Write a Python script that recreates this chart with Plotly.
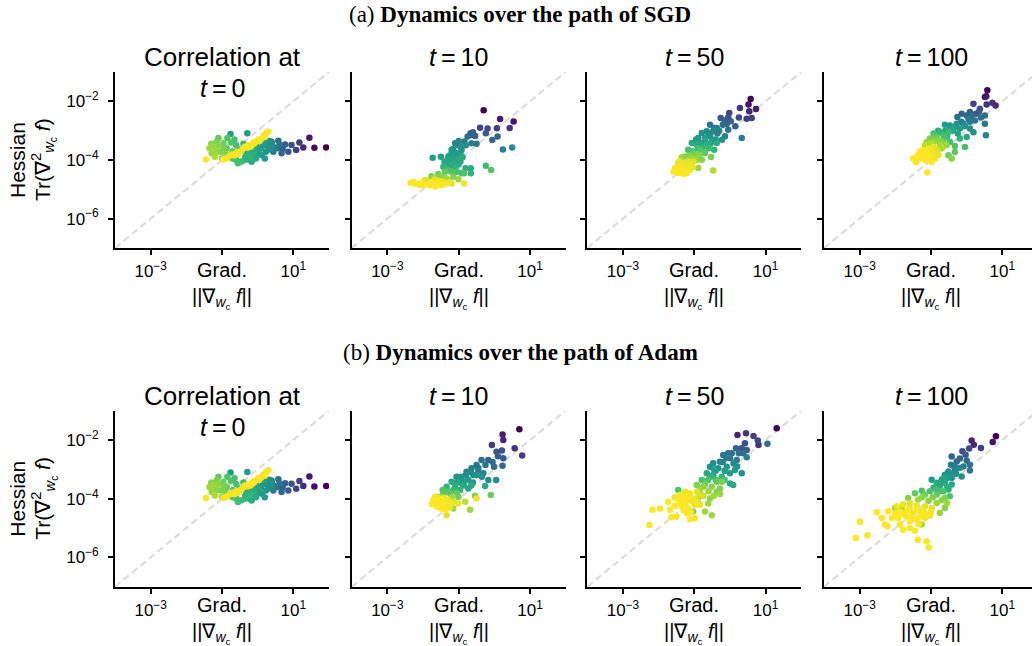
import numpy as np
import plotly.graph_objects as go

# ---------------- data (log10 values) ----------------
# t = 0 (same initialisation for SGD and Adam)
init_log_grad = [1.92, 1.59, 1.45, 1.28, 1.17, 1.08, 0.95, 0.86, 0.77, 0.67, 0.58, 0.51, 0.44, 0.39, 0.55, 0.70, 0.62,
                 0.35, 0.23, 0.18, 0.11, 0.02, -0.03, -0.12, -0.22, -0.31, -0.36, 0.25, 0.10, -0.10, -0.20, -0.45, -0.55, -0.70, -0.17, -0.76, -0.29,
                 0.30, 0.15, 0.05, -0.05, -0.15, -0.25, -0.35, 0.40, 0.45, -0.05, 0.20, -0.60, 0.00, 0.32,
                 -1.15, -1.24, -1.29, -1.06, -0.96, -0.87, -1.20, -1.00, -0.78, -0.60, -0.40, -0.65, -0.85, -1.10, -0.50,
                 -1.35, -1.10, -0.95, -1.15, -0.70, -0.90, -1.30, -0.75,
                 -1.45, -0.96, -0.78, -0.59, -0.40, -0.26, -0.12, 0.02, 0.16, 0.30, -0.50, -0.30, -0.10, 0.10, -0.65, -0.20, 0.22, -0.85,
                 -0.70, -0.45, -0.35, -0.15, 0.05, 0.20, 0.25, -0.05, -0.55, -0.90]
init_log_hess = [-3.57, -3.58, -3.24, -3.57, -3.40, -3.66, -3.49, -3.72, -3.47, -3.77, -3.34, -3.57, -3.72, -3.38, -3.60, -3.62, -3.48,
                 -3.55, -3.72, -3.38, -3.83, -3.66, -3.43, -3.89, -4.00, -3.77, -4.00, -3.50, -3.60, -3.75, -3.90, -4.05, -4.11, -3.95, -4.06, -3.11, -3.09,
                 -3.65, -3.50, -3.80, -3.55, -3.65, -3.80, -3.90, -3.45, -3.60, -3.95, -3.95, -4.00, -3.75, -3.35,
                 -3.38, -3.55, -3.77, -3.72, -3.43, -3.60, -3.89, -3.94, -3.83, -3.50, -3.45, -3.30, -3.25, -3.25, -3.65,
                 -3.60, -3.50, -3.60, -3.70, -3.70, -3.80, -3.45, -3.40,
                 -3.98, -3.98, -3.85, -3.75, -3.60, -3.50, -3.41, -3.30, -3.19, -3.03, -3.72, -3.58, -3.45, -3.28, -3.85, -3.55, -3.13, -3.92,
                 -3.80, -3.68, -3.55, -3.48, -3.35, -3.22, -3.08, -3.38, -3.80, -3.95]
init_color = [0.00, 0.03, 0.06, 0.12, 0.18, 0.20, 0.25, 0.28, 0.30, 0.33, 0.36, 0.40, 0.42, 0.45, 0.35, 0.30, 0.38,
              0.50, 0.52, 0.55, 0.55, 0.58, 0.55, 0.60, 0.62, 0.60, 0.65, 0.50, 0.55, 0.62, 0.65, 0.68, 0.70, 0.72, 0.60, 0.55, 0.55,
              0.50, 0.52, 0.56, 0.58, 0.60, 0.62, 0.64, 0.48, 0.45, 0.60, 0.55, 0.68, 0.57, 0.50,
              0.80, 0.85, 0.85, 0.80, 0.78, 0.75, 0.88, 0.85, 0.80, 0.70, 0.68, 0.70, 0.72, 0.75, 0.72,
              0.85, 0.82, 0.80, 0.83, 0.75, 0.80, 0.82, 0.72,
              1.00, 1.00, 0.98, 1.00, 0.97, 1.00, 0.98, 1.00, 0.97, 1.00, 0.95, 0.96, 0.95, 0.96, 0.97, 1.00, 0.98, 0.96,
              0.99, 0.98, 1.00, 0.99, 0.98, 1.00, 0.97, 1.00, 1.00, 0.99]

# SGD, t = 10
sgd10_log_grad = [-0.30, 0.16, 0.54, 0.43, 0.07, -0.19, -0.40, -0.24, -0.54, -0.67, -0.66, -0.06, 0.09, 0.24, 0.50,
                  -0.50, -0.64, -0.84, -1.01, -1.10, -0.92, -1.06, -1.20, -1.29, -1.50, -1.73, -1.24, -1.38, -1.15, -1.01, -0.89,
                  -1.43, -1.10, -0.81, -0.66, -0.66, -0.24, -0.09, -0.92, -1.20, -1.38, -1.57, -1.76, -1.48, -1.15, -1.01, -1.29, -0.85,
                  -1.15, -1.30, -1.05, -1.20, -1.00, -0.95, -1.15,
                  -1.25, -1.10, -0.95, -1.30, -1.10, -0.95, -1.40, -1.20, -1.00, -0.75, -0.60, -0.80, -1.30, -1.05, -0.85, -1.50, -1.70, -1.35, -1.90,
                  -2.27, -2.13, -1.99, -1.85, -1.71, -1.57, -1.43, -1.29, -1.95, -1.67, -2.09, -1.81, -1.48, -1.20,
                  -2.20, -2.00, -1.90, -1.75, -1.60, -1.38, -1.52, -2.35, -1.65]
sgd10_log_hess = [-2.30, -2.60, -2.69, -2.91, -2.92, -2.93, -2.90, -3.09, -3.18, -3.09, -3.15, -3.32, -3.20, -3.64, -3.57,
                  -3.45, -3.43, -3.37, -3.49, -3.43, -3.66, -3.77, -3.77, -3.89, -3.89, -3.92, -4.06, -4.11, -4.11, -4.00, -3.91,
                  -4.23, -4.28, -4.28, -4.28, -4.45, -4.20, -4.34, -4.45, -4.40, -4.40, -4.48, -4.55, -4.57, -4.57, -4.66, -4.68, -4.80,
                  -3.95, -4.00, -3.88, -4.20, -4.15, -3.55, -3.62,
                  -3.85, -3.80, -3.80, -4.15, -4.20, -4.05, -4.05, -3.65, -3.35, -3.20, -3.05, -3.50, -4.35, -4.40, -4.45, -4.55, -4.62, -4.62, -4.70,
                  -4.74, -4.80, -4.74, -4.80, -4.82, -4.77, -4.74, -4.77, -4.68, -4.68, -4.85, -4.86, -4.85, -4.80,
                  -4.82, -4.85, -4.78, -4.75, -4.85, -4.80, -4.72, -4.78, -4.90]
sgd10_color = [0.00, 0.08, 0.05, 0.15, 0.18, 0.22, 0.20, 0.28, 0.30, 0.30, 0.30, 0.35, 0.33, 0.45, 0.50,
               0.40, 0.42, 0.40, 0.45, 0.45, 0.50, 0.52, 0.55, 0.55, 0.55, 0.55, 0.58, 0.60, 0.60, 0.60, 0.60,
               0.65, 0.65, 0.62, 0.62, 0.65, 0.68, 0.72, 0.70, 0.72, 0.75, 0.78, 0.80, 0.80, 0.80, 0.85, 0.85, 0.98,
               0.57, 0.58, 0.56, 0.62, 0.60, 0.50, 0.52,
               0.56, 0.55, 0.55, 0.60, 0.62, 0.60, 0.60, 0.52, 0.45, 0.35, 0.30, 0.50, 0.70, 0.70, 0.72, 0.82, 0.88, 0.85, 0.92,
               1.00, 1.00, 0.98, 1.00, 0.97, 1.00, 0.96, 0.98, 0.95, 0.95, 1.00, 1.00, 0.98, 0.96,
               1.00, 1.00, 0.98, 1.00, 1.00, 1.00, 0.97, 1.00, 1.00]

# SGD, t = 50
sgd50_log_grad = [0.58, 0.52, 0.73, 0.54, 0.28, 0.47, 0.61, 0.25, -0.02, -0.05, -0.26, 0.02, -0.09, 0.33, -0.05, -0.14, -0.22,
                  -0.37, -0.56, -0.47, -0.65, -0.79, -0.89, -0.70, -0.51, -0.37, -0.44, -1.07, -0.93, -0.79, -0.65,
                  -1.17, -1.03, -0.84, -0.70, -1.26, -1.07, -0.89, -0.79, -0.53, -1.35, -0.89, -0.47,
                  -0.60, -0.35, -0.95,
                  -0.75, -0.60, -0.90, -1.00, -0.85, -1.15, -0.95, -0.55, -0.40, -0.70, -0.30, -0.20, -0.45, -0.55, 0.15, -0.15,
                  -1.54, -1.45, -1.35, -1.26, -1.17, -1.07, -1.21, -1.40, -1.12, -1.31, -1.03, -1.45,
                  -1.50, -1.38, -1.25, -1.15, -1.30, -1.05, -1.42, -1.58]
sgd50_log_hess = [-1.92, -2.11, -2.26, -2.34, -2.23, -2.59, -2.57, -2.55, -2.40, -2.55, -2.57, -2.68, -2.77, -3.25, -2.97, -3.19, -3.31,
                  -2.91, -2.80, -3.02, -3.02, -3.08, -3.25, -3.25, -3.36, -3.42, -3.65, -3.42, -3.48, -3.42, -3.48,
                  -3.65, -3.70, -3.65, -3.76, -3.88, -3.93, -3.82, -3.99, -3.90, -3.91, -4.27, -4.36,
                  -3.15, -3.10, -3.30,
                  -3.55, -3.60, -3.60, -3.80, -3.90, -3.85, -4.00, -3.20, -3.30, -3.35, -3.00, -2.80, -2.90, -3.45, -2.85, -2.65,
                  -4.27, -4.10, -4.39, -4.22, -4.05, -4.16, -4.44, -4.33, -4.33, -4.10, -4.05, -4.44,
                  -4.38, -4.20, -4.35, -4.20, -4.48, -4.25, -4.05, -4.40]
sgd50_color = [0.00, 0.05, 0.08, 0.10, 0.15, 0.20, 0.20, 0.22, 0.22, 0.25, 0.28, 0.30, 0.33, 0.45, 0.40, 0.45, 0.50,
               0.40, 0.38, 0.45, 0.48, 0.50, 0.52, 0.55, 0.55, 0.60, 0.65, 0.60, 0.60, 0.58, 0.62,
               0.70, 0.72, 0.72, 0.75, 0.80, 0.85, 0.82, 0.82, 0.80, 0.85, 0.85, 0.88,
               0.50, 0.45, 0.55,
               0.65, 0.68, 0.68, 0.78, 0.82, 0.82, 0.85, 0.52, 0.55, 0.58, 0.45, 0.35, 0.42, 0.60, 0.30, 0.30,
               1.00, 0.97, 1.00, 0.98, 0.96, 0.97, 1.00, 1.00, 0.98, 0.97, 0.95, 1.00,
               1.00, 0.99, 1.00, 0.98, 1.00, 0.97, 0.97, 1.00]

# SGD, t = 100
sgd100_log_grad = [0.58, 0.51, 0.55, 0.81, 0.72, 0.56, 0.19, 0.37, 0.26, 0.09, 0.00, -0.14, -0.26, 0.51, 0.51, 0.54,
                   0.23, 0.09, -0.09, -0.28, -0.47, -0.61, -0.37, -0.19, 0.09, 0.19, 0.00, -0.19, -0.05, -0.33, -0.47, -0.33, -0.51, -0.42,
                   -0.75, -0.93, -0.84, -0.65, -0.51, -1.03, -1.12, -1.17, -0.93, -0.70, -0.56, -0.70,
                   -0.40, -0.80, -0.25,
                   -0.60, -0.45, -0.30, -0.15, 0.05, 0.15, -0.05, -0.90, -0.80, -1.00, -0.65, -0.55, -0.75, 0.35, 0.40,
                   -1.22, -1.07, -0.93, -1.31, -1.12, -0.98, -0.84, -1.40, -1.22, -1.03, -0.79, -0.89, -1.42, -0.98, -1.10,
                   -1.30, -1.15, -1.00, -1.20, -1.05, -0.90, -1.30, -1.15, -0.95, -1.35, -1.50]
sgd100_log_hess = [-1.62, -1.85, -1.83, -2.14, -2.05, -2.11, -2.08, -2.25, -2.42, -2.36, -2.48, -2.42, -2.53, -2.48, -2.76, -3.16,
                   -2.65, -2.70, -2.76, -2.76, -2.82, -2.80, -2.93, -2.93, -2.93, -3.05, -3.22, -3.27, -3.56, -3.52, -3.39, -3.73, -3.84, -3.95,
                   -3.05, -3.10, -3.22, -3.16, -3.05, -3.27, -3.39, -3.50, -3.39, -3.39, -3.50, -3.61,
                   -3.00, -3.00, -3.10,
                   -3.00, -2.90, -2.85, -2.70, -2.60, -2.50, -2.85, -3.25, -3.35, -3.45, -3.30, -3.20, -3.50, -2.35, -2.55,
                   -3.67, -3.61, -3.56, -3.78, -3.84, -3.78, -3.67, -3.90, -3.95, -3.95, -3.84, -3.95, -4.07, -4.07, -4.43,
                   -3.70, -3.70, -3.68, -3.85, -3.85, -3.75, -3.95, -4.00, -3.88, -3.82, -3.95]
sgd100_color = [0.00, 0.05, 0.06, 0.12, 0.15, 0.15, 0.20, 0.25, 0.28, 0.30, 0.30, 0.32, 0.35, 0.35, 0.40, 0.45,
                0.40, 0.42, 0.45, 0.50, 0.52, 0.55, 0.55, 0.55, 0.50, 0.50, 0.60, 0.65, 0.70, 0.72, 0.70, 0.75, 0.78, 0.82,
                0.65, 0.72, 0.75, 0.70, 0.68, 0.80, 0.85, 0.90, 0.85, 0.82, 0.85, 0.88,
                0.60, 0.62, 0.58,
                0.60, 0.55, 0.50, 0.42, 0.40, 0.35, 0.50, 0.78, 0.82, 0.88, 0.72, 0.68, 0.88, 0.28, 0.35,
                1.00, 0.97, 0.96, 1.00, 1.00, 0.98, 0.95, 1.00, 1.00, 0.98, 0.96, 0.97, 1.00, 1.00, 1.00,
                1.00, 1.00, 0.98, 1.00, 1.00, 0.97, 1.00, 1.00, 0.98, 1.00, 1.00]

# Adam, t = 10
adam10_log_grad = [0.70, 0.23, 0.25, 0.57, 0.78, -0.07, 0.21, 0.06, 0.25, 0.23, -0.01, -0.17, -0.36, -0.50, -0.64, -0.78,
                   -0.59, -0.92, -1.06, -0.87, -0.73, -0.31, -0.17, 0.05, -0.26, -1.20, -1.34, -1.10, -0.96, -0.73,
                   -1.43, -1.24, -1.01, -0.54, -0.10, -1.52, -0.82, -0.50, -1.15, -0.68, -1.34,
                   -0.45, -0.90, -0.60, -1.05,
                   -0.80, -0.65, -0.50, -0.35, -1.00, -0.85, -0.65, -1.15, -1.30, -1.05, -0.45, -0.25, -0.05, 0.10, -1.45, -1.20,
                   -1.71, -1.57, -1.43, -1.29, -1.62, -1.48, -1.34, -1.66, -1.52, -1.15, -1.38, -1.01,
                   -1.65, -1.55, -1.45, -1.35, -1.25, -1.58, -1.42, -1.75, -1.50, -1.25]
adam10_log_hess = [-1.63, -1.81, -2.00, -2.28, -2.53, -2.17, -2.36, -2.40, -2.62, -2.88, -2.91, -2.68, -2.68, -2.85, -2.96, -3.08,
                   -3.19, -3.25, -3.25, -3.42, -3.36, -3.13, -3.36, -3.36, -3.57, -3.42, -3.59, -3.59, -3.70, -3.65,
                   -3.82, -3.82, -3.93, -3.90, -3.87, -3.93, -4.10, -3.99, -4.33, -4.38, -4.56,
                   -3.05, -3.50, -3.45, -3.45,
                   -3.20, -3.10, -3.20, -3.25, -3.40, -3.55, -3.55, -3.70, -3.75, -3.80, -2.95, -2.85, -2.75, -2.55, -3.70, -3.95,
                   -4.04, -4.16, -4.10, -4.04, -4.27, -4.27, -4.21, -3.93, -4.04, -4.10, -4.38, -4.16,
                   -4.10, -4.20, -4.20, -4.10, -4.15, -3.98, -3.98, -4.18, -4.33, -4.30]
adam10_color = [0.00, 0.08, 0.10, 0.15, 0.20, 0.18, 0.25, 0.25, 0.30, 0.35, 0.35, 0.32, 0.35, 0.40, 0.42, 0.45,
                0.48, 0.50, 0.52, 0.55, 0.55, 0.45, 0.50, 0.50, 0.60, 0.60, 0.65, 0.62, 0.65, 0.60,
                0.75, 0.75, 0.78, 0.80, 0.78, 0.85, 0.90, 0.97, 0.85, 0.85, 0.95,
                0.45, 0.56, 0.55, 0.58,
                0.50, 0.48, 0.50, 0.50, 0.56, 0.60, 0.60, 0.68, 0.72, 0.75, 0.40, 0.38, 0.35, 0.30, 0.72, 0.85,
                1.00, 1.00, 0.98, 0.97, 1.00, 1.00, 0.98, 0.97, 1.00, 0.96, 1.00, 0.97,
                1.00, 1.00, 1.00, 0.99, 0.98, 0.98, 0.98, 1.00, 1.00, 0.97]

# Adam, t = 50
adam50_log_grad = [1.31, 0.21, 0.45, 0.66, 0.78, 0.80, 1.05, 0.42, 0.33, 0.47, 0.17, 0.37, -0.05, -0.19, 0.00, 0.19, 0.47,
                   -0.28, -0.47, -0.56, -0.33, -0.09, 0.14, 0.33, 0.00, -0.65, -0.47, -0.23, 0.00, 0.09,
                   -0.79, -0.61, -0.37, -0.23, -0.93, -0.75, -0.51, -0.28, -1.45, -0.37, -0.28, -0.56, -0.61, -0.89, -0.70, -0.51, -1.03,
                   -0.15, -0.40, 0.10,
                   -0.20, -0.10, 0.05, 0.25, 0.20, -0.45, -0.55, -0.40, -0.15, -0.70, -0.85, -0.60, -0.45, -0.75,
                   -1.40, -1.26, -1.12, -0.93, -1.45, -1.31, -1.17, -0.98, -0.79, -1.35, -1.17, -0.98, -1.21,
                   -1.73, -1.68, -1.96, -2.17, -2.26, -1.50, -1.64, -0.98, -1.12, -0.84,
                   -1.30, -1.15, -1.05, -1.25, -1.40, -1.55, -1.10, -0.90, -1.30, -1.55]
adam50_log_hess = [-1.60, -1.83, -1.77, -1.86, -2.02, -2.17, -2.13, -2.11, -2.28, -2.34, -2.28, -2.45, -2.45, -2.51, -2.62, -2.68, -2.59,
                   -2.74, -2.79, -2.91, -2.96, -2.91, -3.02, -3.13, -3.13, -3.13, -3.19, -3.25, -3.48, -3.53,
                   -3.36, -3.36, -3.42, -3.42, -3.53, -3.59, -3.59, -3.65, -3.70, -3.76, -3.84, -3.99, -4.16, -3.99, -4.44, -4.56, -4.44,
                   -3.05, -3.05, -2.80,
                   -2.75, -2.60, -2.45, -2.45, -2.90, -3.00, -3.25, -3.35, -3.35, -3.50, -3.70, -3.75, -3.90, -3.90,
                   -3.87, -3.76, -3.82, -3.76, -4.04, -4.10, -4.04, -3.99, -3.87, -4.27, -4.33, -4.21, -4.50,
                   -4.10, -4.38, -4.33, -4.38, -4.90, -4.61, -4.63, -4.67, -4.70, -4.21,
                   -3.95, -3.92, -4.10, -4.20, -4.15, -4.25, -4.45, -4.10, -4.40, -3.95]
adam50_color = [0.00, 0.10, 0.15, 0.20, 0.22, 0.15, 0.35, 0.25, 0.28, 0.30, 0.30, 0.35, 0.35, 0.40, 0.40, 0.42, 0.45,
                0.45, 0.48, 0.50, 0.50, 0.50, 0.55, 0.50, 0.55, 0.60, 0.60, 0.65, 0.60, 0.60,
                0.70, 0.72, 0.75, 0.80, 0.80, 0.82, 0.82, 0.80, 0.72, 0.80, 0.85, 0.82, 0.85, 0.88, 0.85, 0.85, 0.82,
                0.55, 0.55, 0.45,
                0.45, 0.42, 0.38, 0.35, 0.50, 0.55, 0.65, 0.70, 0.70, 0.78, 0.85, 0.85, 0.85, 0.88,
                1.00, 0.97, 0.98, 0.96, 1.00, 1.00, 0.98, 0.97, 0.95, 1.00, 1.00, 0.98, 1.00,
                1.00, 1.00, 1.00, 1.00, 1.00, 1.00, 1.00, 1.00, 1.00, 0.97,
                1.00, 1.00, 0.98, 1.00, 1.00, 1.00, 1.00, 0.96, 1.00, 0.98]

# Adam, t = 100
adam100_log_grad = [0.82, 0.73, 0.14, 0.20, 0.40, 0.07, -0.12, -0.03, -0.42, -0.19, -0.28, 0.09, 0.09, -0.09, -0.44, -0.33,
                    -0.51, -0.61, -0.14, -0.42, -0.70, -0.98, -0.84, -0.61, -0.42, -0.51, -0.93, -0.75, -1.03, -1.26,
                    -1.45, -1.17, -0.84, -0.61, -0.47, -1.64, -1.36, -1.07, -0.84, -0.61, -0.75, -2.01, -1.82, -1.26,
                    -0.30, -0.75, -0.55,
                    -0.20, 0.00, -0.35, -0.45, -0.65, -0.55, -0.85, -0.65, -0.95, -1.25, -0.70, -0.55,
                    -2.20, -1.96, -1.78, -1.59, -1.40, -1.17, -0.98, -1.03, -2.10, -1.92, -1.68, -1.50, -1.31, -1.87, -1.59,
                    -1.40, -1.17, -2.29, -2.22, -2.52, -2.99, -3.11, -2.78, -1.78, -1.45, -1.37, -1.12, -1.06, -2.38, -1.59,
                    -1.85, -1.65, -1.40, -1.20, -1.00, -1.75, -1.50, -1.30, -1.10, -2.00, -1.60, -1.35]
adam100_log_hess = [-1.87, -2.07, -2.02, -2.16, -2.27, -2.29, -2.38, -2.50, -2.56, -2.63, -2.73, -2.84, -3.04, -2.90, -2.84, -3.01,
                    -3.07, -3.18, -3.24, -3.29, -3.35, -3.35, -3.46, -3.46, -3.52, -3.69, -3.63, -3.75, -3.75, -3.73,
                    -3.81, -3.86, -3.86, -3.98, -3.92, -3.98, -4.03, -4.07, -4.15, -4.32, -4.49, -4.32, -4.37, -4.88,
                    -3.15, -3.55, -3.30,
                    -2.95, -2.70, -2.90, -3.15, -3.30, -3.60, -3.70, -3.75, -3.95, -3.95, -4.05, -4.15,
                    -4.43, -4.26, -4.20, -4.15, -4.23, -4.26, -4.32, -4.57, -4.66, -4.66, -4.60, -4.49, -4.43, -4.88, -4.77,
                    -4.71, -4.66, -4.88, -4.94, -4.46, -4.79, -5.34, -5.25, -5.06, -5.09, -5.40, -5.45, -5.66, -4.66, -5.00,
                    -4.45, -4.40, -4.35, -4.45, -4.45, -4.55, -4.62, -4.60, -4.55, -4.50, -4.30, -4.85]
adam100_color = [0.00, 0.05, 0.10, 0.12, 0.20, 0.22, 0.25, 0.28, 0.30, 0.32, 0.35, 0.38, 0.40, 0.40, 0.42, 0.45,
                 0.48, 0.50, 0.50, 0.52, 0.55, 0.55, 0.60, 0.60, 0.60, 0.62, 0.65, 0.70, 0.72, 0.72,
                 0.75, 0.78, 0.75, 0.80, 0.72, 0.82, 0.85, 0.82, 0.85, 0.82, 0.85, 0.85, 0.88, 0.88,
                 0.50, 0.60, 0.55,
                 0.45, 0.35, 0.42, 0.50, 0.58, 0.62, 0.70, 0.72, 0.80, 0.82, 0.82, 0.85,
                 1.00, 0.98, 0.97, 0.96, 0.97, 0.96, 0.95, 0.98, 1.00, 1.00, 1.00, 0.98, 0.97, 1.00, 1.00,
                 1.00, 0.98, 1.00, 1.00, 1.00, 1.00, 1.00, 1.00, 1.00, 1.00, 1.00, 1.00, 1.00, 1.00, 1.00,
                 1.00, 1.00, 1.00, 1.00, 0.98, 1.00, 1.00, 1.00, 1.00, 1.00, 0.98, 1.00]

row_titles = ["(a) <b>Dynamics over the path of SGD</b>", "(b) <b>Dynamics over the path of Adam</b>"]
col_titles = ["Correlation at", "<i>t</i>\u2009=\u200910", "<i>t</i>\u2009=\u200950", "<i>t</i>\u2009=\u2009100"]
first_col_second_line = "<i>t</i>\u2009=\u20090"
x_label = "Grad.<br>||\u2207<sub><i>w</i><sub>c</sub></sub> <i>f</i>||"
y_label_top = "Hessian"
y_label_bottom = "Tr(\u2207<sup>2</sup><sub><i>w</i><sub>c</sub></sub> <i>f</i>)"
rows = [
    [(init_log_grad, init_log_hess, init_color), (sgd10_log_grad, sgd10_log_hess, sgd10_color),
     (sgd50_log_grad, sgd50_log_hess, sgd50_color), (sgd100_log_grad, sgd100_log_hess, sgd100_color)],
    [(init_log_grad, init_log_hess, init_color), (adam10_log_grad, adam10_log_hess, adam10_color),
     (adam50_log_grad, adam50_log_hess, adam50_color), (adam100_log_grad, adam100_log_hess, adam100_color)],
]
for _row in rows:
    for _lg, _lh, _c in _row:
        assert len(_lg) == len(_lh) == len(_c), (len(_lg), len(_lh), len(_c))

x_tickvals = [1e-3, 1e1]
x_ticktext = ["10<sup>\u22123</sup>", "10<sup>1</sup>"]
x_unlabelled_tickvals = [1e-1]
y_tickvals = [1e-2, 1e-4, 1e-6]
y_ticktext = ["10<sup>\u22122</sup>", "10<sup>\u22124</sup>", "10<sup>\u22126</sup>"]
X_LOG_RANGE = (-4.0, 2.0)
Y_LOG_RANGE = (-7.0, -1.0)

# ---------------- layout geometry ----------------
W, H = 1032, 646
col_left = [115, 351.7, 587.3, 824]
axis_w = 214
row_top = [72, 410.7]
row_shift = 338.7
axis_h = 176
SANS = "Liberation Sans, Arial, sans-serif"
SERIF = "Liberation Serif, Times New Roman, serif"


def px(x):
    return x / W


def py(y):
    return 1 - y / H


def note(x, y, text, size, family=SANS, angle=0):
    return dict(x=px(x), y=py(y), xref="paper", yref="paper", text=text, textangle=angle,
                showarrow=False, xanchor="center", yanchor="middle",
                font=dict(family=family, size=size, color="black"))


fig = go.Figure()
annotations = []
k = 0
for r in range(2):
    for c in range(4):
        k += 1
        xa = "x" if k == 1 else f"x{k}"
        ya = "y" if k == 1 else f"y{k}"
        lg, lh, col = rows[r][c]
        order = np.argsort(np.array(col), kind="stable")
        gx = np.power(10.0, np.array(lg))[order]
        hy = np.power(10.0, np.array(lh))[order]
        cc = np.array(col)[order]
        # diagonal reference (corner to corner of the axes box)
        fig.add_trace(go.Scatter(
            x=[10 ** X_LOG_RANGE[0], 10 ** X_LOG_RANGE[1]], y=[10 ** Y_LOG_RANGE[0], 10 ** Y_LOG_RANGE[1]],
            mode="lines", line=dict(color="#dadada", width=2, dash="7px,4px"),
            xaxis=xa, yaxis=ya, showlegend=False, hoverinfo="skip"))
        fig.add_trace(go.Scatter(
            x=gx, y=hy, mode="markers",
            marker=dict(size=6.5, color=cc, colorscale="Viridis", cmin=0, cmax=1, line=dict(width=0)),
            xaxis=xa, yaxis=ya, showlegend=False))
        x0 = col_left[c]
        x1 = min(x0 + axis_w, W)
        xr_hi = X_LOG_RANGE[0] + (X_LOG_RANGE[1] - X_LOG_RANGE[0]) * (x1 - x0) / axis_w
        y0 = row_top[r]
        y1 = y0 + axis_h
        common = dict(type="log", showline=True, linecolor="black", linewidth=1.8, ticks="outside",
                      ticklen=5, tickwidth=1.8, tickcolor="black", showgrid=False, zeroline=False,
                      tickfont=dict(family=SANS, size=17, color="black"))
        yaxis_cfg = dict(domain=[py(y1), py(y0)], range=list(Y_LOG_RANGE), anchor=xa,
                         tickvals=y_tickvals, **common)
        if c == 0:
            yaxis_cfg.update(ticktext=y_ticktext, ticklabelstandoff=6)
        else:
            yaxis_cfg.update(showticklabels=False)
        fig.update_layout(**{
            ("xaxis" if k == 1 else f"xaxis{k}"): dict(
                domain=[px(x0), px(x1)], range=[X_LOG_RANGE[0], xr_hi], anchor=ya,
                tickvals=x_tickvals, ticktext=x_ticktext, ticklabelstandoff=2,
                minor=dict(tickvals=x_unlabelled_tickvals, ticks="outside", ticklen=5, tickwidth=1.8,
                           tickcolor="black", showgrid=False),
                **common),
            ("yaxis" if k == 1 else f"yaxis{k}"): yaxis_cfg,
        })
        cx = x0 + axis_w / 2
        dy = row_shift * r
        annotations.append(note(cx, 57 + dy, col_titles[c], 26 if c == 0 else 25))
        if c == 0:
            annotations.append(note(cx, 88 + dy, first_col_second_line, 25))
            annotations.append(note(18, 160 + dy, y_label_top, 21, angle=-90))
            annotations.append(note(44, 160 + dy, y_label_bottom, 21, angle=-90))
        annotations.append(note(cx, 285 + dy - (3 if r == 1 else 0), x_label, 20))

for r in range(2):
    annotations.append(note(520, 14 + row_shift * r, row_titles[r], 23, family=SERIF))

fig.update_layout(width=W, height=H, margin=dict(l=0, r=0, t=0, b=0),
                  paper_bgcolor="white", plot_bgcolor="white", annotations=annotations,
                  showlegend=False)
fig.write_html("out.html")
